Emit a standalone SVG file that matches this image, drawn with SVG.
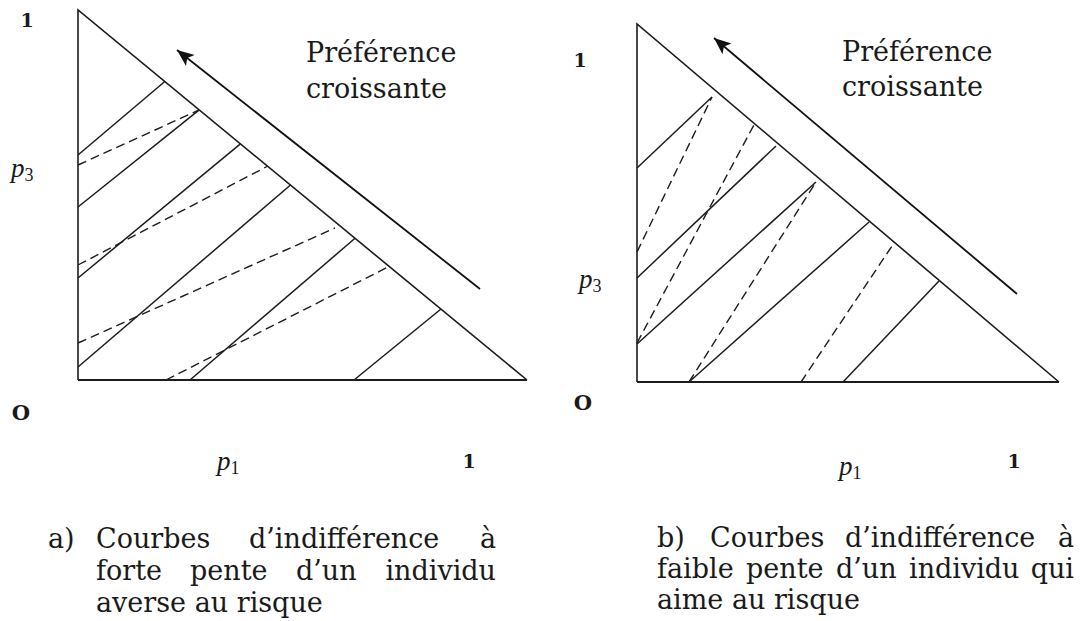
<svg xmlns="http://www.w3.org/2000/svg" width="1080" height="621" viewBox="0 0 1080 621">
<style>
.bg{fill:#ffffff}
.ax{stroke:#1c1c1c;stroke-width:1.6;fill:none}
.base{stroke:#1c1c1c;stroke-width:2.2;fill:none}
.s{stroke:#1c1c1c;stroke-width:1.5;fill:none}
.d{stroke:#1c1c1c;stroke-width:1.4;fill:none;stroke-dasharray:9 5}
.arr{stroke:#111;stroke-width:1.8;fill:none}
.t{font-family:"DejaVu Serif","Liberation Serif",serif;font-size:27px;fill:#1a1a1a}
.num{font-family:"DejaVu Serif","Liberation Serif",serif;font-size:19px;font-weight:bold;fill:#1a1a1a}
.o{font-family:"DejaVu Serif","Liberation Serif",serif;font-size:21px;font-weight:bold;fill:#1a1a1a}
.m{font-family:"Liberation Serif","DejaVu Serif",serif;font-size:27px;font-style:italic;fill:#1a1a1a}
.sub{font-family:"Liberation Serif","DejaVu Serif",serif;font-size:18px;font-style:normal;fill:#1a1a1a}
</style>
<defs>
<marker id="head" markerUnits="userSpaceOnUse" markerWidth="20" markerHeight="16" viewBox="0 -8 20 16" refX="17" refY="0" orient="auto">
<path d="M0,-7 L17,0 L0,7 L4,0 Z" fill="#111"/>
</marker>
</defs>
<rect class="bg" x="0" y="0" width="1080" height="621"/>

<g id="panel-a">
<g id="triangle-a">
<path class="ax" d="M78,380 L78,10 L527,380"/>
<path class="base" d="M78,380 L527,380"/>
</g>
<g id="curves-a-solid">
<path class="s" d="M78,155 L164.8,81.5"/>
<path class="s" d="M78,207 L199.2,109.9"/>
<path class="s" d="M78,278 L240.4,143.8"/>
<path class="s" d="M78,367 L290.5,185"/>
<path class="s" d="M190,380 L355,238.3"/>
<path class="s" d="M354,380 L441,309"/>
</g>
<g id="curves-a-dashed">
<path class="d" d="M78,165 L199,110"/>
<path class="d" d="M78,265 L267,166.5"/>
<path class="d" d="M78,343 L335,228"/>
<path class="d" d="M166,380 L388,267"/>
</g>
<g id="labels-a">
<text class="num" x="27" y="27" text-anchor="middle">1</text>
<text class="m" x="11" y="177">p<tspan class="sub" dy="4">3</tspan></text>
<text class="o" x="21" y="420" text-anchor="middle">O</text>
<text class="m" x="217" y="470">p<tspan class="sub" dy="4">1</tspan></text>
<text class="num" x="469" y="468" text-anchor="middle">1</text>
<text class="t" x="306" y="62">Préférence</text>
<text class="t" x="306" y="98">croissante</text>
</g>
<g id="caption-a">
<text class="t" x="48" y="548">a)</text>
<text class="t" y="548"><tspan x="96">Courbes</tspan><tspan x="249">d’indifférence</tspan><tspan x="496" text-anchor="end">à</tspan></text>
<text class="t" y="580"><tspan x="96">forte</tspan><tspan x="190">pente</tspan><tspan x="296">d’un</tspan><tspan x="496" text-anchor="end">individu</tspan></text>
<text class="t" x="96" y="612">averse au risque</text>
</g>
</g>

<g id="panel-b">
<g id="triangle-b">
<path class="ax" d="M637,382 L637,24 L1059,382"/>
<path class="base" d="M637,382 L1059,382"/>
</g>
<g id="curves-b-solid">
<path class="s" d="M637,168 L712,97"/>
<path class="s" d="M637,278 L776,146"/>
<path class="s" d="M637,344 L816,182"/>
<path class="s" d="M689,382 L869,222"/>
<path class="s" d="M843,382 L939,281"/>
</g>
<g id="curves-b-dashed">
<path class="d" d="M637,252 L712,97"/>
<path class="d" d="M637,343 L755,123"/>
<path class="d" d="M689,382 L816,182"/>
<path class="d" d="M801,382 L894,243"/>
</g>
<g id="labels-b">
<text class="num" x="580" y="67" text-anchor="middle">1</text>
<text class="m" x="579" y="288">p<tspan class="sub" dy="4">3</tspan></text>
<text class="o" x="583" y="410" text-anchor="middle">O</text>
<text class="m" x="839" y="475">p<tspan class="sub" dy="4">1</tspan></text>
<text class="num" x="1014" y="468" text-anchor="middle">1</text>
<text class="t" x="842" y="61">Préférence</text>
<text class="t" x="842" y="96">croissante</text>
</g>
<g id="caption-b">
<text class="t" x="657" y="547">b)</text>
<text class="t" y="547"><tspan x="710">Courbes</tspan><tspan x="845">d’indifférence</tspan><tspan x="1074" text-anchor="end">à</tspan></text>
<text class="t" y="578"><tspan x="657">faible</tspan><tspan x="746">pente</tspan><tspan x="836">d’un</tspan><tspan x="909">individu</tspan><tspan x="1074" text-anchor="end">qui</tspan></text>
<text class="t" x="657" y="609">aime au risque</text>
</g>
</g>

<g id="connectors">
<path class="arr" d="M480,289 L177,50" marker-end="url(#head)"/>
<path class="arr" d="M1017,294 L714,38" marker-end="url(#head)"/>
</g>
</svg>
